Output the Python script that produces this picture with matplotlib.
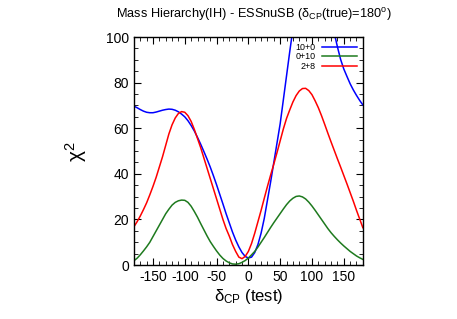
import matplotlib
matplotlib.use("Agg")
import matplotlib.pyplot as plt
from matplotlib.ticker import MultipleLocator

plt.rcParams['font.family'] = ['Liberation Sans', 'DejaVu Sans']
plt.rcParams['mathtext.fontset'] = 'custom'
plt.rcParams['mathtext.rm'] = 'Liberation Sans'
plt.rcParams['mathtext.it'] = 'Liberation Sans'
plt.rcParams['axes.unicode_minus'] = False

delta = list(range(-180, 181, 5))

# 10+0  (values above 100 run off the top of the frame)
chi_10_0 = [69.7, 69.0, 68.2, 67.5, 67.0, 66.8, 66.8, 67.1, 67.5, 67.9,
            68.2, 68.4, 68.3, 67.9, 67.2, 66.2, 65.0, 63.3, 61.2, 58.8,
            56.0, 53.0, 49.8, 46.5, 43.0, 39.2, 35.2, 31.0, 26.8, 22.5,
            18.5, 14.5, 11.0, 8.0, 5.5, 3.8, 3.1, 3.5, 5.5, 9.0,
            14.0, 20.5, 28.5, 36.5, 45.0, 53.5, 62.0, 72.5, 83.0, 93.5,
            103.5, 109.0, 114.0, 118.0, 121.5, 124.0, 125.5, 126.0, 125.0, 123.0,
            119.0, 114.0, 108.0, 101.8, 95.7, 90.2, 86.0, 82.7, 79.5, 76.8,
            74.4, 72.2, 70.2]
# 0+10
chi_0_10 = [1.9, 3.0, 4.5, 6.2, 8.0, 10.0, 12.5, 15.0, 17.5, 20.0,
            22.5, 24.5, 26.3, 27.5, 28.2, 28.5, 28.4, 27.5, 25.8, 23.5,
            21.0, 18.2, 15.5, 12.8, 10.3, 8.2, 6.2, 4.4, 2.9, 1.8,
            1.0, 0.5, 0.4, 0.6, 1.2, 2.0, 3.1, 4.5, 6.0, 7.9,
            10.0, 12.1, 14.3, 16.5, 18.6, 20.6, 22.6, 24.6, 26.5, 28.1,
            29.3, 30.1, 30.3, 29.9, 29.0, 27.6, 25.9, 24.0, 22.0, 20.0,
            18.0, 16.0, 14.2, 12.6, 11.1, 9.7, 8.4, 7.2, 6.0, 5.0,
            4.0, 3.2, 2.5]
# 2+8
chi_2_8 = [16.8, 19.0, 21.5, 24.3, 27.3, 30.8, 34.5, 38.5, 43.0, 47.5,
           52.5, 57.5, 61.5, 64.5, 66.5, 67.3, 67.0, 65.5, 63.0, 59.5,
           55.5, 51.5, 47.0, 42.5, 38.0, 33.5, 29.0, 24.5, 20.0, 16.0,
           12.7, 9.0, 6.0, 3.5, 2.8, 3.8, 6.0, 9.5, 14.0, 19.0,
           24.0, 29.3, 34.5, 39.5, 44.3, 49.3, 54.5, 59.7, 64.3, 68.0,
           71.5, 74.3, 76.3, 77.4, 77.5, 76.5, 74.7, 72.0, 69.0, 65.5,
           61.7, 57.8, 54.0, 50.3, 46.6, 43.0, 39.3, 35.6, 31.8, 28.0,
           24.0, 20.2, 16.4]

series = [("10+0", chi_10_0, "#0000ff"),
          ("0+10", chi_0_10, "#1e7a1e"),
          ("2+8", chi_2_8, "#ff0000")]

fig = plt.figure(figsize=(4.57, 3.19), dpi=100)
ax = fig.add_axes([0.293, 0.169, 0.501, 0.715])

for label, vals, color in series:
    ax.plot(delta, vals, color=color, lw=1.1, label=label)

ax.set_xlim(-180, 180)
ax.set_ylim(0, 100)
ax.xaxis.set_major_locator(MultipleLocator(50))
ax.xaxis.set_minor_locator(MultipleLocator(10))
ax.yaxis.set_major_locator(MultipleLocator(20))
ax.yaxis.set_minor_locator(MultipleLocator(5))
ax.tick_params(which='both', direction='in', top=True, right=True, labelsize=10)
ax.tick_params(which='major', length=5)
ax.tick_params(which='minor', length=3)
for s in ax.spines.values():
    s.set_linewidth(1.0)

ax.set_xlabel(r'$\delta_{\rm CP}$ (test)', fontsize=12, labelpad=2)
ax.set_ylabel(r'$\chi^2$', fontsize=15, labelpad=12)

fig.text(0.556, 0.953, r'Mass Hierarchy(IH) - ESSnuSB ($\delta_{\rm CP}$(true)=180$^{\rm o}$)',
         ha='center', va='center', fontsize=9.2)

ax.legend(loc='upper right', markerfirst=False, frameon=False, fontsize=6.4,
          handlelength=4.0, labelspacing=0.05, borderaxespad=0.25, handletextpad=0.7)

fig.savefig("out.png", dpi=100)
